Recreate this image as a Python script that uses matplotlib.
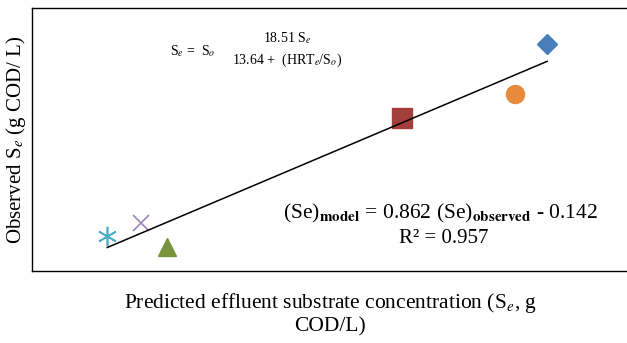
import numpy as np
import matplotlib
matplotlib.use("Agg")
import matplotlib.pyplot as plt

# Observed vs predicted effluent substrate (g COD/L)
predicted = [2.60, 2.44, 1.87, 0.68, 0.55, 0.38]
observed = [2.16, 1.68, 1.45, 0.23, 0.46, 0.33]
markers = ["D", "o", "s", "^", "x", "*"]
colors = ["#4A7EBB", "#E8893B", "#A23E3C", "#77933C", "#9A86BC", "#4BACC6"]

plt.rcParams["font.family"] = ["Liberation Serif", "DejaVu Serif"]
plt.rcParams["mathtext.fontset"] = "stix"

fig = plt.figure(figsize=(6.27, 3.43), dpi=100)
ax = fig.add_axes([0.051, 0.21, 0.948, 0.767])

sizes = {"D": 10, "o": 13, "s": 14, "^": 13, "x": 11, "*": 14}
for x, y, m, c in zip(predicted, observed, markers, colors):
    if m == "*":
        ax.plot(x, y, marker=(6, 2, 0), color=c, markersize=sizes[m], mew=1.2, linestyle="none")
    elif m == "x":
        ax.plot(x, y, marker=m, color=c, markersize=sizes[m], mew=1.2, linestyle="none")
    else:
        ax.plot(x, y, marker=m, color=c, markersize=sizes[m], linestyle="none")

# linear trendline through the points
a, b = np.polyfit(predicted, observed, 1)
xs = np.array([min(predicted), max(predicted)])
ax.plot(xs, a * xs + b, color="black", linewidth=1.1)

ax.set_xlim(0, 3.0)
ax.set_ylim(0, 2.5)
ax.set_xticks([])
ax.set_yticks([])
ax.spines["right"].set_visible(False)
for s in ["left", "top", "bottom"]:
    ax.spines[s].set_linewidth(1.0)

ax.set_ylabel(r"Observed S$_e$ (g COD/ L)", fontsize=15, labelpad=3)
fig.text(0.527, 0.085, "Predicted effluent substrate concentration (S$_e$, g\nCOD/L)",
         ha="center", va="center", fontsize=15.5, linespacing=1.15)

# model equation (top left)
ax.text(0.232, 0.836, r"S$_e$ =  S$_o$", transform=ax.transAxes, fontsize=10, va="center")
ax.text(0.43, 0.886, r"18.51 S$_e$", transform=ax.transAxes, fontsize=10, ha="center", va="center")
ax.text(0.43, 0.802, r"13.64 +  (HRT$_e$/S$_o$)", transform=ax.transAxes, fontsize=10, ha="center", va="center")

# regression equation
ax.text(0.423, 0.22, r"(Se)$_{\mathbf{model}}$ = 0.862 (Se)$_{\mathbf{observed}}$ - 0.142",
        transform=ax.transAxes, fontsize=15.5, va="center")
ax.text(0.692, 0.125, "R² = 0.957", transform=ax.transAxes, fontsize=15, ha="center", va="center")

fig.savefig("out.png", dpi=100)
